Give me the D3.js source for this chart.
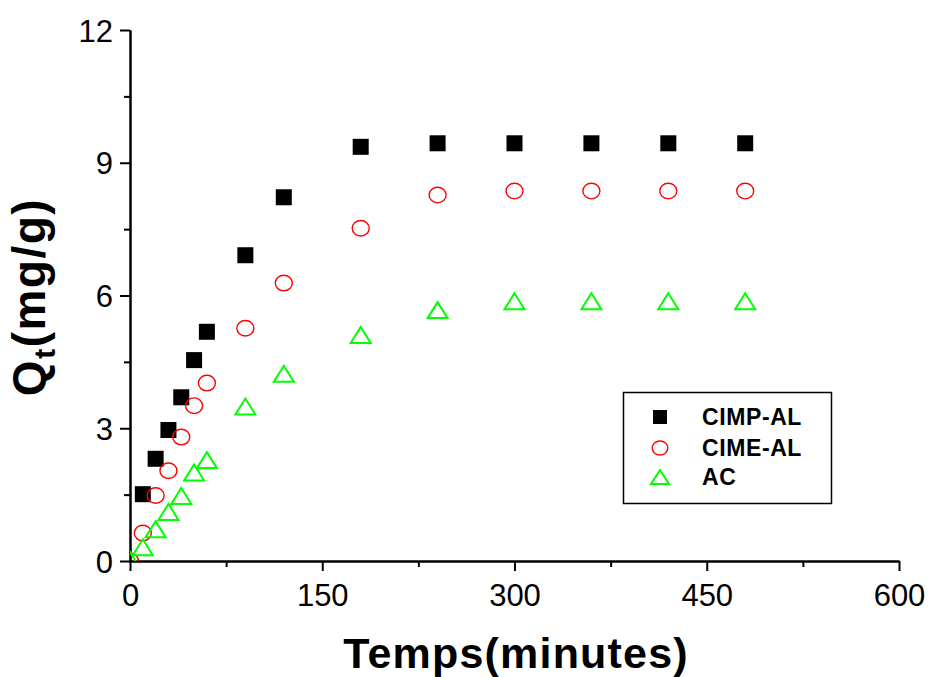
<!DOCTYPE html>
<html>
<head>
<meta charset="utf-8">
<script src="https://cdn.jsdelivr.net/npm/d3@7"></script>
<style>
  body { margin: 0; background: #fff; }
  text { font-family: Arial, "Liberation Sans", sans-serif; }
  .axis path, .axis line { stroke: #000; stroke-width: 2; }
  .axis text { font-size: 31px; fill: #000; }
</style>
</head>
<body>
<div id="visualization"></div>
<script>
var cimpTimes = [10, 20, 30, 40, 50, 60, 90, 120, 180, 240, 300, 360, 420, 480];
var cimpValues = [1.51, 2.31, 2.96, 3.70, 4.54, 5.18, 6.91, 8.22, 9.36, 9.44, 9.44, 9.44, 9.44, 9.44];

var cimeTimes = [0, 10, 20, 30, 40, 50, 60, 90, 120, 180, 240, 300, 360, 420, 480];
var cimeValues = [0, 0.63, 1.48, 2.04, 2.80, 3.51, 4.02, 5.26, 6.28, 7.52, 8.27, 8.36, 8.36, 8.36, 8.36];

var acTimes = [0, 10, 20, 30, 40, 50, 60, 90, 120, 180, 240, 300, 360, 420, 480];
var acValues = [0.02, 0.31, 0.72, 1.11, 1.47, 2.00, 2.28, 3.49, 4.23, 5.11, 5.67, 5.87, 5.87, 5.87, 5.87];

var seriesNames = ["CIMP-AL", "CIME-AL", "AC"];
var xTicks = [0, 150, 300, 450, 600];
var yTicks = [0, 3, 6, 9, 12];

render();

function render() {
  var width = 929,
      height = 677,
      plot = {left: 130, right: 899, top: 30, bottom: 561};

  var svg = d3.select("#visualization").append("svg")
              .attr("width", width)
              .attr("height", height);

  var x = d3.scaleLinear().domain([0, 600]).range([plot.left, plot.right]);
  var y = d3.scaleLinear().domain([0, 12]).range([plot.bottom, plot.top]);

  // minor ticks first, then major ticks with labels
  svg.append("g")
     .attr("class", "axis")
     .attr("transform", "translate(0," + plot.bottom + ")")
     .call(d3.axisBottom(x).tickValues([75, 225, 375, 525]).tickSize(6).tickSizeOuter(0).tickFormat(""));

  svg.append("g")
     .attr("class", "axis")
     .attr("transform", "translate(" + plot.left + ",0)")
     .call(d3.axisLeft(y).tickValues([1.5, 4.5, 7.5, 10.5]).tickSize(6).tickSizeOuter(0).tickFormat(""));

  var xAxis = svg.append("g")
     .attr("class", "axis")
     .attr("transform", "translate(0," + plot.bottom + ")")
     .call(d3.axisBottom(x).tickValues(xTicks).tickSize(10).tickSizeOuter(0).tickPadding(13));
  xAxis.selectAll("text").attr("dy", "0.71em");

  var yAxis = svg.append("g")
     .attr("class", "axis")
     .attr("transform", "translate(" + plot.left + ",0)")
     .call(d3.axisLeft(y).tickValues(yTicks).tickSize(10).tickSizeOuter(0).tickPadding(7));
  yAxis.selectAll("text").attr("dy", "0.36em");

  svg.append("defs").append("clipPath")
     .attr("id", "plot-clip")
     .append("rect")
     .attr("x", plot.left)
     .attr("y", 0)
     .attr("width", plot.right - plot.left + 20)
     .attr("height", plot.bottom);

  var marks = svg.append("g").attr("clip-path", "url(#plot-clip)");

  var cimp = cimpTimes.map(function(t, i) { return {t: t, v: cimpValues[i]}; });
  var cime = cimeTimes.map(function(t, i) { return {t: t, v: cimeValues[i]}; });
  var ac = acTimes.map(function(t, i) { return {t: t, v: acValues[i]}; });

  marks.selectAll(".sq")
       .data(cimp)
       .enter().append("rect")
       .attr("x", d => x(d.t) - 8)
       .attr("y", d => y(d.v) - 8)
       .attr("width", 16)
       .attr("height", 16)
       .attr("fill", "#000");

  marks.selectAll(".ci")
       .data(cime)
       .enter().append("ellipse")
       .attr("cx", d => x(d.t))
       .attr("cy", d => y(d.v))
       .attr("rx", 8.5)
       .attr("ry", 7.8)
       .attr("fill", "none")
       .attr("stroke", "#ff0000")
       .attr("stroke-width", 1.4);

  marks.selectAll(".tr")
       .data(ac)
       .enter().append("path")
       .attr("d", d => triangle(x(d.t), y(d.v), 20, 16))
       .attr("fill", "none")
       .attr("stroke", "#00ff00")
       .attr("stroke-width", 2);

  // Legend
  var lg = svg.append("g");
  lg.append("rect")
    .attr("x", 623.5)
    .attr("y", 392.5)
    .attr("width", 208)
    .attr("height", 111)
    .attr("fill", "#fff")
    .attr("stroke", "#000")
    .attr("stroke-width", 1.5);

  var rows = [417, 448, 477];
  lg.append("rect")
    .attr("x", 653).attr("y", rows[0] - 7)
    .attr("width", 14).attr("height", 14)
    .attr("fill", "#000");
  lg.append("ellipse")
    .attr("cx", 660).attr("cy", rows[1])
    .attr("rx", 7.8).attr("ry", 7)
    .attr("fill", "none").attr("stroke", "#ff0000").attr("stroke-width", 1.4);
  lg.append("path")
    .attr("d", triangle(660, rows[2], 18, 14))
    .attr("fill", "none").attr("stroke", "#00ff00").attr("stroke-width", 2);

  lg.selectAll(".lt")
    .data(seriesNames)
    .enter().append("text")
    .attr("x", 702)
    .attr("y", (d, i) => rows[i])
    .attr("dy", "0.36em")
    .style("font-size", "23px")
    .style("font-weight", "bold")
    .style("letter-spacing", "0.6px")
    .text(d => d);

  // X-Axis label
  svg.append("text")
     .attr("x", 516)
     .attr("y", 668)
     .attr("text-anchor", "middle")
     .style("font-size", "43px")
     .style("font-weight", "bold")
     .style("letter-spacing", "1.2px")
     .text("Temps(minutes)");

  // Y-Axis label
  var yl = svg.append("text")
     .attr("transform", "translate(45,297) rotate(-90)")
     .attr("text-anchor", "middle")
     .style("font-size", "46px")
     .style("font-weight", "bold")
     .style("letter-spacing", "1.5px");
  yl.append("tspan").text("Q");
  yl.append("tspan").attr("dy", 10).style("font-size", "30px").text("t");
  yl.append("tspan").attr("dy", -10).text("(mg/g)");
}

function triangle(cx, cy, w, h) {
  return "M" + cx + "," + (cy - h / 2) +
         "L" + (cx + w / 2) + "," + (cy + h / 2) +
         "L" + (cx - w / 2) + "," + (cy + h / 2) + "Z";
}
</script>
</body>
</html>
